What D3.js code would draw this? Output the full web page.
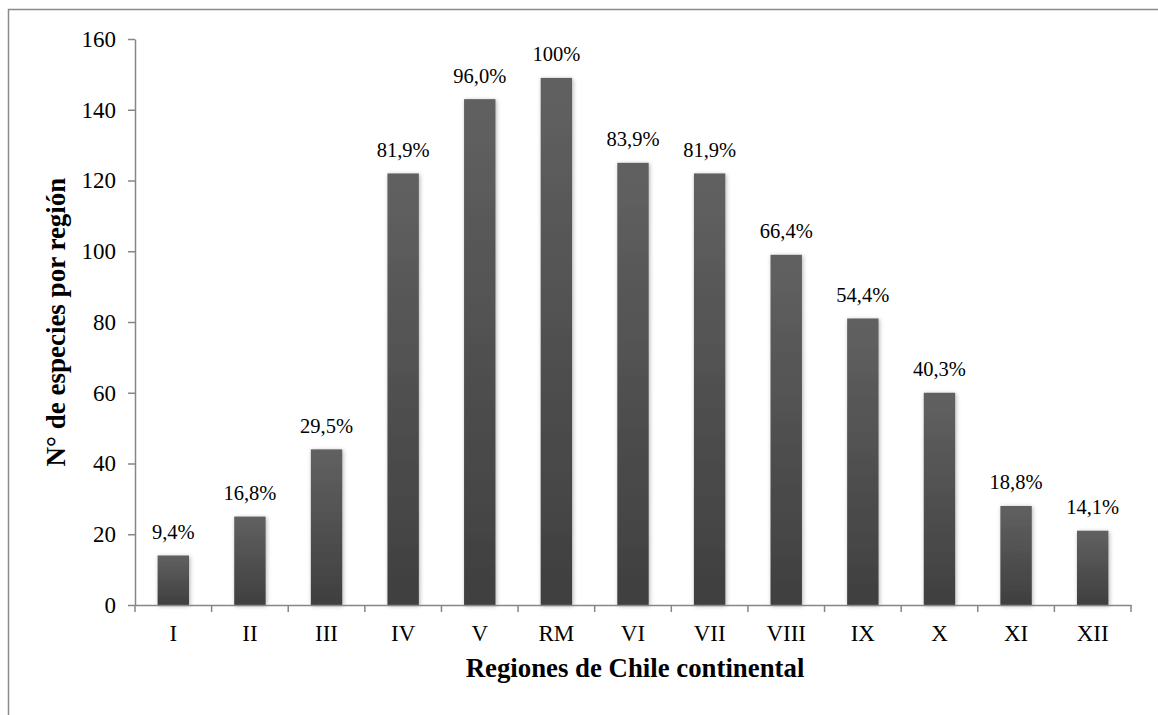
<!DOCTYPE html>
<html><head><meta charset="utf-8">
<script src="https://cdn.jsdelivr.net/npm/d3@7"></script>
<style>body{margin:0;background:#fff}svg{display:block}</style>
</head><body>
<script>
const regions = ["I","II","III","IV","V","RM","VI","VII","VIII","IX","X","XI","XII"];
const species = [14,25,44,122,143,149,125,122,99,81,60,28,21];
const percentLabels = ["9,4%","16,8%","29,5%","81,9%","96,0%","100%","83,9%","81,9%","66,4%","54,4%","40,3%","18,8%","14,1%"];
const yTicks = [0,20,40,60,80,100,120,140,160];

const W = 1158, H = 715;
const m = {left:135, right:27, top:39, bottom:110};
const svg = d3.select("body").append("svg").attr("width",W).attr("height",H);
const defs = svg.append("defs");
const g1 = defs.append("linearGradient").attr("id","barg").attr("x1",0).attr("y1",0).attr("x2",0).attr("y2",1);
g1.append("stop").attr("offset","0%").attr("stop-color","#616161");
g1.append("stop").attr("offset","100%").attr("stop-color","#3f3f3f");
const f = defs.append("filter").attr("id","sh").attr("x","-30%").attr("y","-10%").attr("width","160%").attr("height","120%");
f.append("feDropShadow").attr("dx",1).attr("dy",1).attr("stdDeviation",2).attr("flood-color","#000").attr("flood-opacity",0.3);

svg.append("rect").attr("x",8.5).attr("y",9.5).attr("width",W+10).attr("height",H+10)
  .attr("fill","#fff").attr("stroke","#8a8a8a").attr("stroke-width",1.5);

const x = d3.scaleBand().domain(regions).range([m.left, W-m.right]).paddingInner(0.59).paddingOuter(0.295);
const y = d3.scaleLinear().domain([0,160]).range([H-m.bottom, m.top]);

const font = "'Liberation Serif','Times New Roman',serif";

// bars
svg.append("g").selectAll("rect").data(regions).join("rect")
  .attr("x",d=>x(d)).attr("width",x.bandwidth())
  .attr("y",(d,i)=>y(species[i])).attr("height",(d,i)=>y(0)-y(species[i]))
  .attr("fill","url(#barg)").attr("filter","url(#sh)");

// y axis
const ya = svg.append("g").attr("transform",`translate(${m.left},0)`)
  .call(d3.axisLeft(y).tickValues(yTicks).tickSize(7).tickPadding(12).tickSizeOuter(0));
ya.select(".domain").attr("stroke","#868686").attr("stroke-width",1.5);
ya.selectAll(".tick line").attr("stroke","#868686").attr("stroke-width",1.5);
ya.selectAll("text").attr("font-family",font).attr("font-size",23).attr("fill","#000");

// x axis
const xa = svg.append("g").attr("transform",`translate(0,${y(0)})`)
  .call(d3.axisBottom(x).tickSize(0).tickPadding(20));
xa.select(".domain").attr("stroke","#868686").attr("stroke-width",1.5);
xa.selectAll("text").attr("font-family",font).attr("font-size",23).attr("fill","#000");
// category boundary ticks
const bounds = d3.range(regions.length+1).map(i=>m.left + i*(W-m.right-m.left)/regions.length);
xa.append("g").selectAll("line").data(bounds).join("line")
  .attr("x1",d=>d).attr("x2",d=>d).attr("y1",0).attr("y2",7)
  .attr("stroke","#868686").attr("stroke-width",1.5);

// data labels
svg.append("g").selectAll("text").data(regions).join("text")
  .attr("x",d=>x(d)+x.bandwidth()/2).attr("y",(d,i)=>y(species[i])-16.5)
  .attr("text-anchor","middle").attr("font-family",font).attr("font-size",20.5).attr("fill","#000")
  .text((d,i)=>percentLabels[i]);

// titles
svg.append("text").attr("x",635).attr("y",677).attr("text-anchor","middle")
  .attr("font-family",font).attr("font-size",26.8).attr("font-weight","bold").text("Regiones de Chile continental");
svg.append("text").attr("transform",`translate(65,${(y(0)+y(160))/2}) rotate(-90)`).attr("text-anchor","middle")
  .attr("font-family",font).attr("font-size",27).attr("font-weight","bold").text("N° de especies por región");
</script>
</body></html>
